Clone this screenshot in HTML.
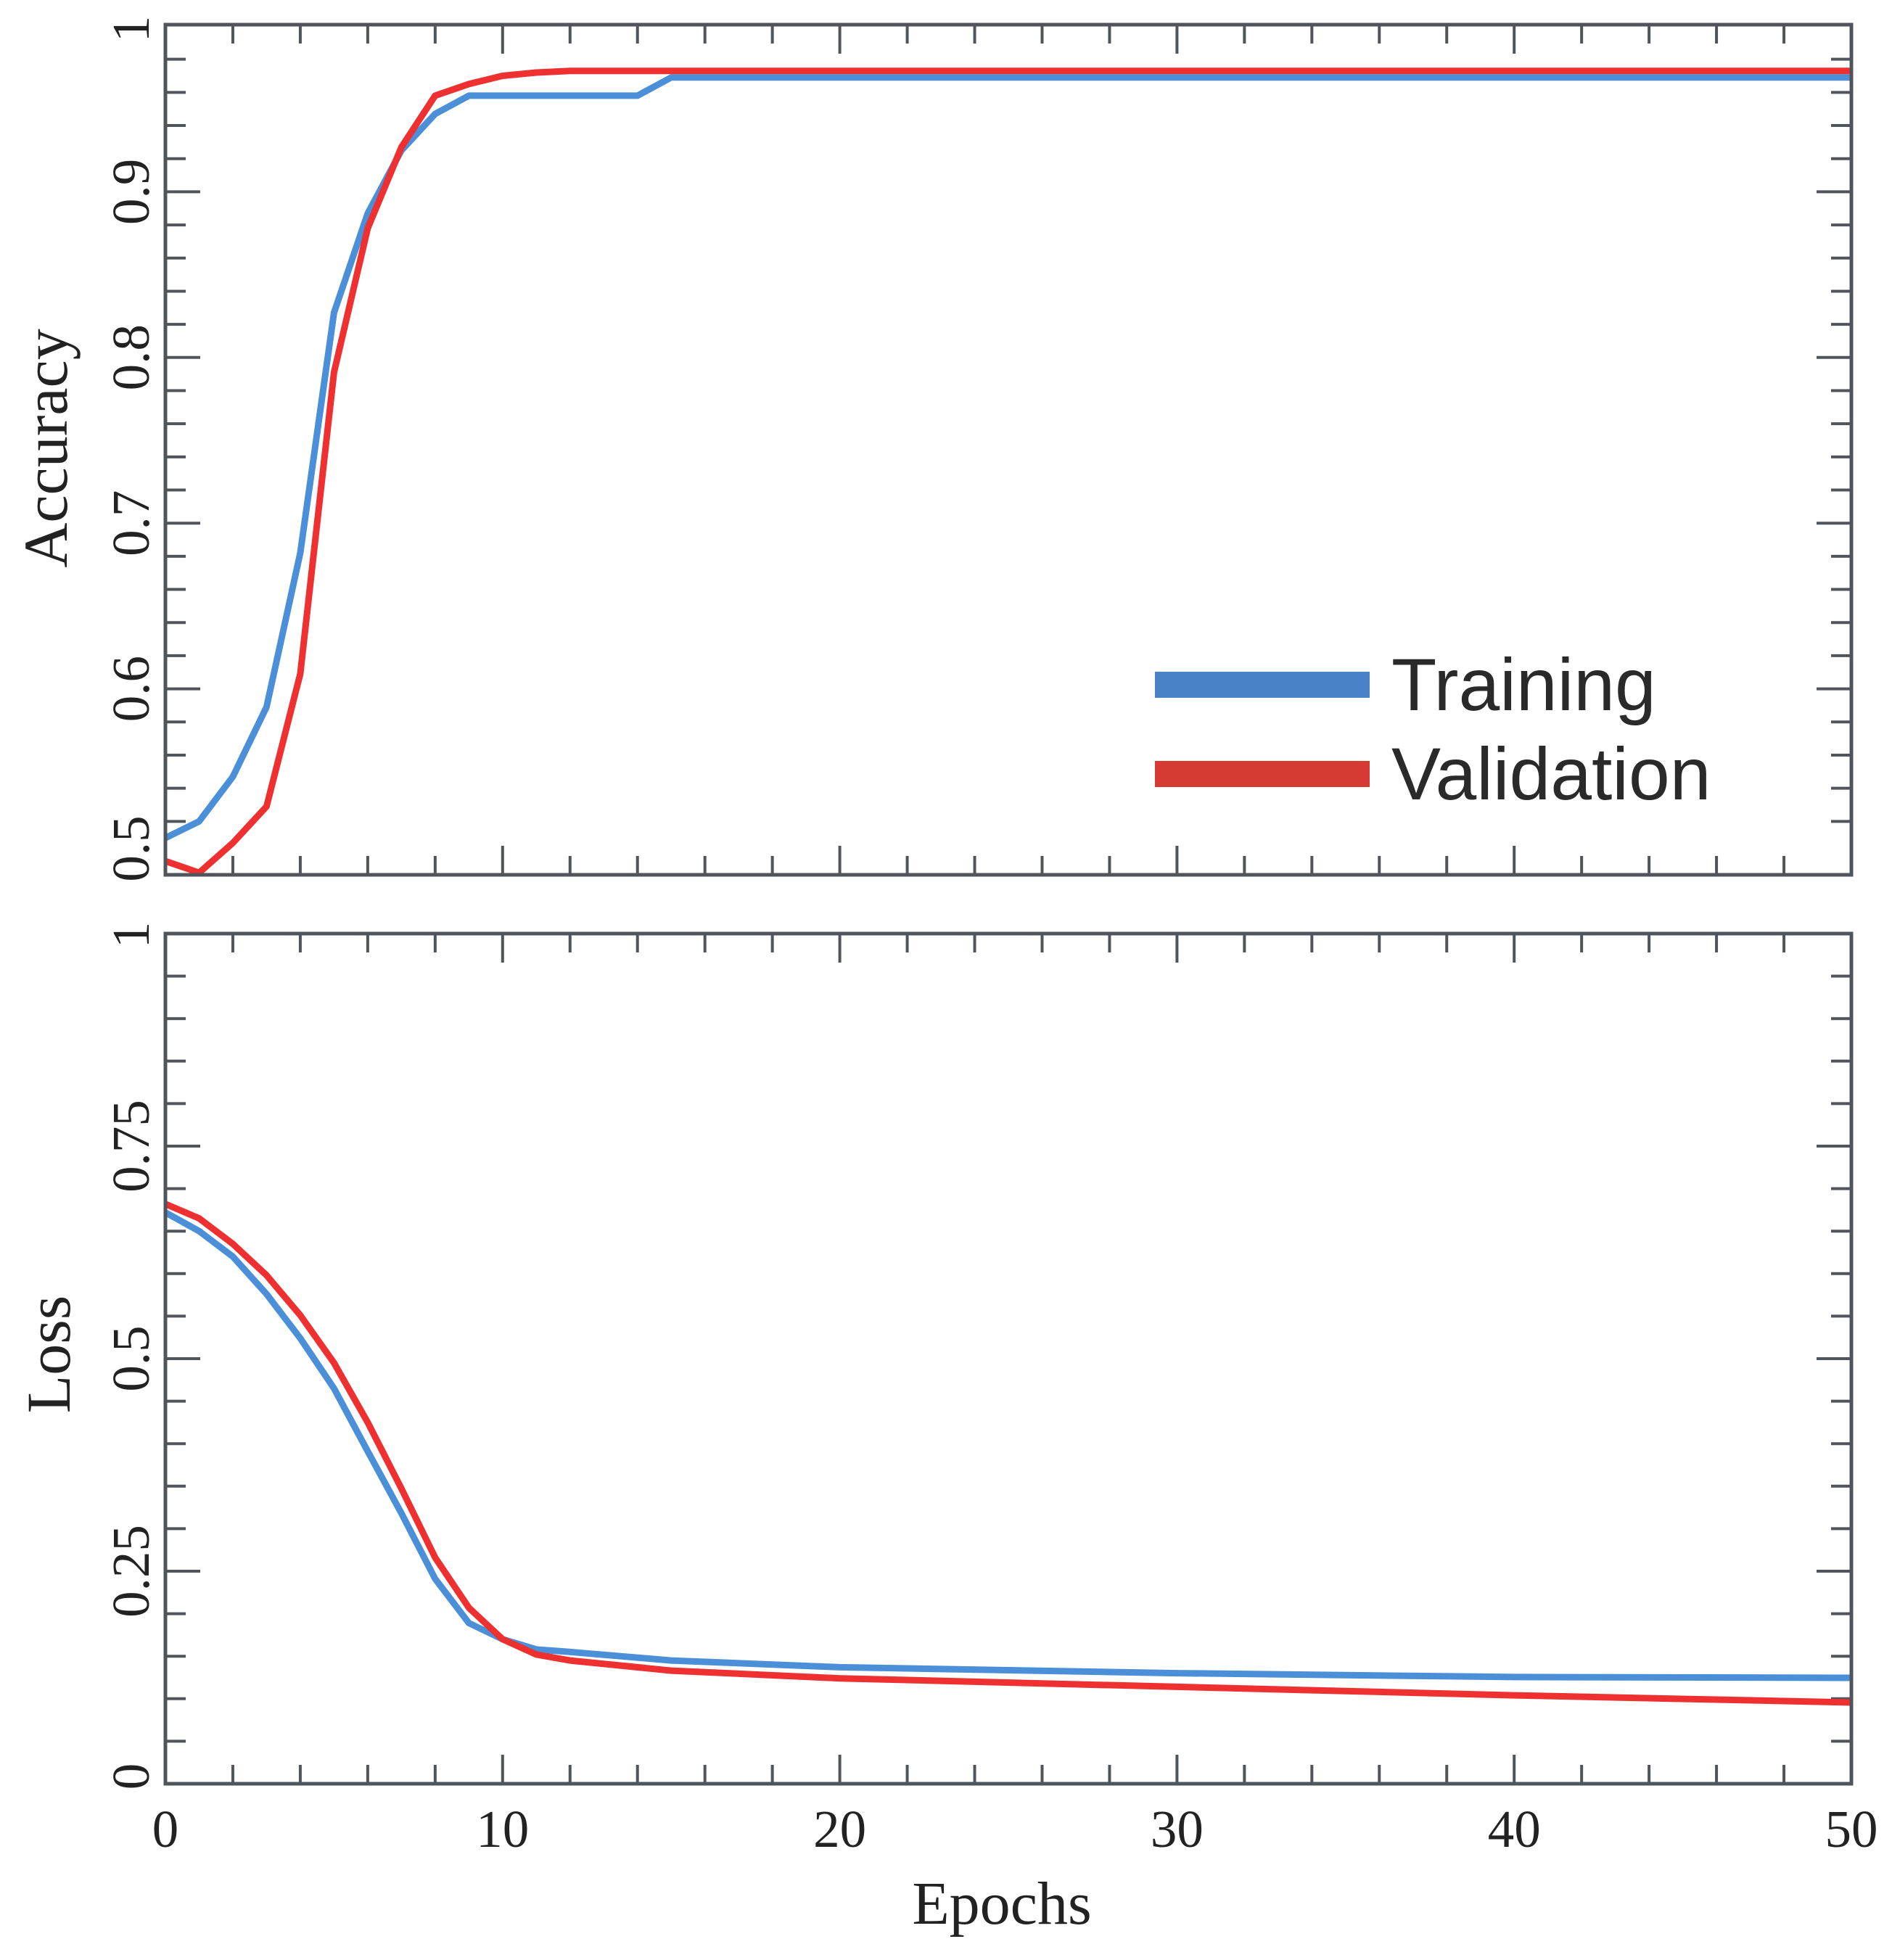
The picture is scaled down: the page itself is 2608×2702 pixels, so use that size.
<!DOCTYPE html>
<html><head><meta charset="utf-8"><style>
html,body{margin:0;padding:0;background:#fff;}
svg{display:block;}
</style></head><body>
<svg id="chart" width="2608" height="2702" viewBox="0 0 2608 2702" xmlns="http://www.w3.org/2000/svg"></svg>
<script>
// ---- data ----
const accEpochs = [0,1,2,3,4,5,6,7,8,9,10,11,12,13,14,15,16,20,30,40,50];
const accTraining = [0.510,0.520,0.547,0.589,0.682,0.827,0.887,0.925,0.947,0.958,0.958,0.958,0.958,0.958,0.958,0.969,0.969,0.969,0.969,0.969,0.969];
const accValidation = [0.496,0.489,0.507,0.529,0.609,0.791,0.878,0.927,0.958,0.965,0.970,0.972,0.973,0.973,0.973,0.973,0.973,0.973,0.973,0.973,0.973];
const lossEpochs = [0,1,2,3,4,5,6,7,8,9,10,11,12,15,20,30,40,50];
const lossTraining = [0.672,0.650,0.620,0.576,0.524,0.465,0.391,0.318,0.241,0.189,0.170,0.158,0.155,0.145,0.137,0.130,0.1255,0.1246];
const lossValidation = [0.682,0.665,0.635,0.598,0.551,0.495,0.425,0.347,0.266,0.207,0.170,0.152,0.145,0.133,0.124,0.114,0.104,0.0956];
const xTickLabels = ["0","10","20","30","40","50"];
const accTickLabels = ["0.5","0.6","0.7","0.8","0.9","1"];
const lossTickLabels = ["0","0.25","0.5","0.75","1"];

const NS = "http://www.w3.org/2000/svg";
const svg = document.getElementById("chart");
function mk(tag, attrs, parent){
  const e = document.createElementNS(NS, tag);
  for (const k in attrs) e.setAttribute(k, attrs[k]);
  (parent||svg).appendChild(e);
  return e;
}
const X0 = 228, X1 = 2552;
function xs(v){ return X0 + (v/50)*(X1-X0); }
const accP = {y1:36, yv1:1, y0:1178, yv0:0.5, bottom:1206, top:34};
const lossP = {y1:1287, yv1:1, y0:2459, yv0:0, bottom:2459, top:1287};
function ysFor(p){ return v => p.y0 + (v-p.yv0)/(p.yv1-p.yv0)*(p.y1-p.y0); }
const yA = ysFor(accP), yL = ysFor(lossP);
const COL = "#50555c";
const TFS = 73;

function panel(p, ys, name, minorStep, majorVals, majorLabels, ex, ser1, ser2){
  const g = mk("g", {});
  
  
  for (let e=2; e<50; e+=2){
    const major = e%10===0;
    const len = major?40:26;
    const t1 = mk("line",{x1:xs(e),x2:xs(e),y1:p.bottom,y2:p.bottom-len,stroke:COL,"stroke-width":4},g);
    
    
    const t2 = mk("line",{x1:xs(e),x2:xs(e),y1:p.top,y2:p.top+len,stroke:COL,"stroke-width":4},g);
    
    
  }
  const lo = p.yv0, hi = p.yv1;
  const n = Math.round((hi-lo)/minorStep);
  for (let i=1;i<n;i++){
    const v = lo + i*minorStep;
    const isMajor = majorVals.some(m=>Math.abs(m-v)<1e-6);
    const len = isMajor?48:28;
    const y = ys(v);
    const t1 = mk("line",{x1:X0,x2:X0+len,y1:y,y2:y,stroke:COL,"stroke-width":4},g);
    
    
    const t2 = mk("line",{x1:X1,x2:X1-len,y1:y,y2:y,stroke:COL,"stroke-width":4},g);
    
    
  }
  majorVals.forEach((v,i)=>{
    const y = ys(v);
    const t = mk("text",{x:0,y:0,transform:`translate(205,${y}) rotate(-90)`,"text-anchor":"middle","font-family":"Liberation Serif, serif","font-size":TFS,fill:"#222"},g);
    t.textContent = majorLabels[i];
    
    
  });
  [ser1, ser2].forEach(s=>{
    const d = ex.map((e,i)=>(i?"L":"M")+xs(e).toFixed(1)+","+ys(s.vals[i]).toFixed(1)).join(" ");
    const path = mk("path",{d:d,fill:"none",stroke:s.color,"stroke-width":9,"stroke-linejoin":"round"},g);
    
    
  });
  const fr = mk("rect",{x:X0,y:p.top,width:X1-X0,height:p.bottom-p.top,fill:"none",stroke:COL,"stroke-width":5},g);
  
  
}

panel(accP, yA, "accuracy", 0.02, [0.6,0.7,0.8,0.9], accTickLabels.slice(1,5), accEpochs,
  {key:"training", vals:accTraining, color:"#4a8fd8"}, {key:"validation", vals:accValidation, color:"#ee3030"});
panel(lossP, yL, "loss", 0.05, [0.25,0.5,0.75], lossTickLabels.slice(1,4), lossEpochs,
  {key:"training", vals:lossTraining, color:"#4a8fd8"}, {key:"validation", vals:lossValidation, color:"#ee3030"});

function yEndLabel(txt, y){
  const t = mk("text",{x:0,y:0,transform:`translate(205,${y}) rotate(-90)`,"text-anchor":"middle","font-family":"Liberation Serif, serif","font-size":TFS,fill:"#222"});
  t.textContent = txt;
  
  
}
yEndLabel(accTickLabels[0], 1170);
yEndLabel(accTickLabels[5], 40);
yEndLabel(lossTickLabels[0], 2449);
yEndLabel(lossTickLabels[4], 1289);

xTickLabels.forEach((s,i)=>{
  const t = mk("text",{x:xs(i*10),y:2546,"text-anchor":"middle","font-family":"Liberation Serif, serif","font-size":TFS,fill:"#222"});
  t.textContent = s;
  
  
});

const at = mk("text",{x:0,y:0,transform:"translate(92,618) rotate(-90)","text-anchor":"middle","font-family":"Liberation Serif, serif","font-size":86,fill:"#222"});
at.textContent = "Accuracy";


const lt = mk("text",{x:0,y:0,transform:"translate(96,1867) rotate(-90)","text-anchor":"middle","font-family":"Liberation Serif, serif","font-size":86,fill:"#222"});
lt.textContent = "Loss";


const et = mk("text",{x:1381,y:2652,"text-anchor":"middle","font-family":"Liberation Serif, serif","font-size":84,fill:"#222"});
et.textContent = "Epochs";



const lg = mk("g",{});


[["Training","#4a82c8",944],["Validation","#d63a32",1067]].forEach(([lab,c,y])=>{
  const r = mk("rect",{x:1592,y:y-18,width:296,height:36,fill:c},lg);
  
  
  const t = mk("text",{x:1918,y:y+35,"font-family":"Liberation Sans, sans-serif","font-size":102,fill:"#2a2a2a"},lg);
  t.textContent = lab;
  
  
});
</script>
</body></html>
